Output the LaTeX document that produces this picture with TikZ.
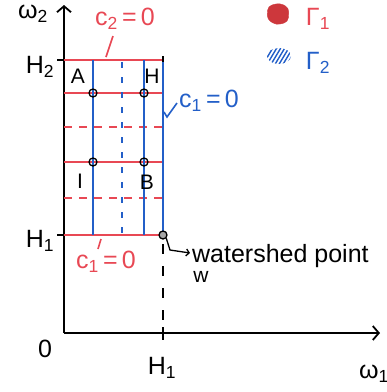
\documentclass[tikz,border=0pt]{standalone}
\usepackage{fontspec}
\setmainfont{Liberation Sans}
\usetikzlibrary{arrows.meta}
\definecolor{myred}{RGB}{232,72,84}
\definecolor{myblue}{RGB}{35,95,200}
\definecolor{legred}{RGB}{205,55,60}
\begin{document}
\begin{tikzpicture}[x=1pt,y=-1pt,
 axis/.style={line width=1.8pt,black},
 redline/.style={line width=2.2pt,myred},
 reddash/.style={redline,dash pattern=on 8pt off 7pt},
 blueline/.style={line width=2.2pt,myblue},
 bluedash/.style={blueline,dash pattern=on 6pt off 9pt},
 lbl/.style={font=\fontsize{21}{23}\selectfont,inner sep=0pt},
 big/.style={font=\fontsize{25}{27}\selectfont,inner sep=0pt},
 dotc/.style={circle,draw,line width=1.3pt,minimum size=8pt,inner sep=0pt},
]
\useasboundingbox (0,0) rectangle (387,392);
% coordinates
\coordinate (O) at (64,333);
\coordinate (ytop) at (64,5);
\coordinate (xend) at (380,333);
% axes
\draw[axis,-{Straight Barb[length=6pt,width=14pt]}] (O) -- (ytop);
\draw[axis,-{Straight Barb[length=6pt,width=14pt]}] (O) -- (xend);
% ticks
\draw[axis] (57,60) -- (64,60);
\draw[axis] (57,235) -- (64,235);
\draw[axis] (163,327) -- (163,340);
% red horizontal lines
\foreach \y in {60,93,162,235} \draw[redline] (64,\y) -- (164,\y);
\foreach \y in {127,198} \draw[reddash] (64,\y) -- (164,\y);
% blue vertical lines
\foreach \x in {93,144,163} \draw[blueline] (\x,60) -- (\x,235);
\draw[bluedash] (122,62) -- (122,235);
\draw[axis] (163,56) -- (163,62);
% black dashed
\draw[line width=1.3pt,dash pattern=on 10pt off 12pt] (163,244) -- (163,325);
% circles
\foreach \p/\n in {{93,93}/a,{144,93}/b,{93,162}/c,{144,162}/d} \node[dotc] (n\n) at (\p) {};
\node[dotc,fill=gray!70] (wp) at (163,235) {};
% labels
\node[lbl] (lA) at (78,76) {A};
\node[lbl] (lH) at (152,76) {H};
\node[lbl] (lI) at (80,181) {I};
\node[lbl] (lB) at (147,182) {B};
\node[big] (lH2) at (40,67) {H\textsubscript{2}};
\node[big] (lH1) at (40,241) {H\textsubscript{1}};
\node[big] (lw2) at (33,14) {ω\textsubscript{2}};
\node[big] (l0) at (45,349) {0};
\node[big] (lH1x) at (162,368) {H\textsubscript{1}};
\node[big] (lw1) at (374,374) {ω\textsubscript{1}};
% constraint labels
\node[big,text=myred] (c2) at (125,19) {c\textsubscript{2}\,=\,0};
\draw[redline,line width=1.6pt] (113,36) -- (106,57);
\node[big,text=myblue,anchor=west] (c1b) at (179,101) {c\textsubscript{1}\,=\,0};
\draw[blueline,line width=1.6pt] (164,112) -- (167,117) -- (177,103);
\node[big,text=myred] (c1r) at (106,262) {c\textsubscript{1}\,=\,0};
\draw[redline,line width=1.6pt] (101,239) -- (98,249);
% watershed
\node[big,anchor=base west] (ws) at (192,262) {watershed point};
\node[lbl] (wl) at (201,277) {w};
\draw[line width=1.3pt,-{Straight Barb[length=3pt,width=7pt]}] (wp.south east) -- (170,250) -- (190,253);
% legend
\draw[legred,fill=legred,rounded corners=4pt] (268,6) -- (280,3) -- (289,8) -- (288,22) -- (276,25) -- (267,19) -- cycle;
\node[big,text=myred] (G1) at (318,19) {Γ\textsubscript{1}};
\begin{scope}
\clip (279,56) ellipse (12pt and 8pt);
\foreach \k in {-20,-16,...,24} \draw[myblue,line width=1.4pt] (270+\k,66) -- (282+\k,46);
\end{scope}
\node[big,text=myblue] (G2) at (318,63) {Γ\textsubscript{2}};
\end{tikzpicture}
\end{document}
